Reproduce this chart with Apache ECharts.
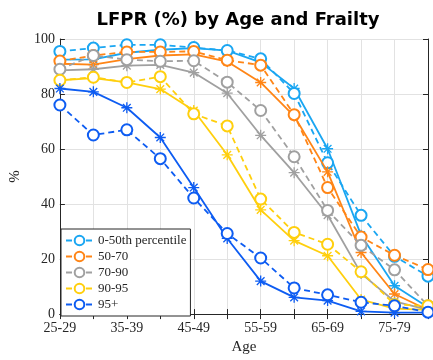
<!DOCTYPE html>
<html>
<head>
<meta charset="utf-8">
<script src="https://cdn.jsdelivr.net/npm/echarts@6/dist/echarts.min.js"></script>
<style>
  html, body { margin: 0; padding: 0; background: #fff; }
  #chart { width: 433px; height: 360px; }
</style>
</head>
<body>
<div id="chart"></div>
<script>
// Age groups on the x axis
const ageGroups = ['25-29', '30-34', '35-39', '40-44', '45-49', '50-54',
                   '55-59', '60-64', '65-69', '70-74', '75-79', '80-84'];
const yTicks = [0, 20, 40, 60, 80, 100];

// Frailty groups (legend labels)
const groupNames = ['0-50th percentile', '50-70', '70-90', '90-95', '95+'];

// Dashed lines with circles: data
const dataP0_50  = [95.5, 96.7, 97.9, 97.9, 96.9, 95.8, 92.8, 80.2, 55.0, 35.9, 21.0, 13.8];
const dataP50_70 = [92.0, 94.0, 95.3, 95.3, 95.5, 92.3, 90.5, 72.5, 46.0, 28.0, 21.4, 16.2];
const dataP70_90 = [89.0, 94.0, 92.5, 91.9, 92.1, 84.3, 74.0, 57.2, 37.7, 25.0, 16.1, 3.0];
const dataP90_95 = [85.0, 86.1, 84.2, 86.3, 72.8, 68.4, 41.8, 29.7, 25.4, 15.4, 3.5, 3.0];
const dataP95    = [76.0, 65.1, 67.0, 56.5, 42.2, 29.3, 20.4, 9.5, 7.0, 4.3, 3.0, 0.7];

// Solid lines with asterisks: model
const modelP0_50  = [92.5, 92.6, 95.0, 96.1, 96.7, 95.8, 91.5, 82.0, 60.1, 28.7, 10.3, 2.5];
const modelP50_70 = [91.0, 90.7, 92.7, 94.0, 94.4, 91.8, 84.2, 72.0, 51.7, 22.4, 7.3, 1.5];
const modelP70_90 = [88.6, 89.0, 90.3, 90.6, 87.8, 80.3, 65.0, 51.4, 36.0, 14.8, 4.6, 1.5];
const modelP90_95 = [85.0, 85.8, 84.2, 81.8, 74.0, 57.9, 37.9, 26.7, 21.2, 5.3, 2.0, 1.5];
const modelP95    = [82.0, 80.8, 75.0, 64.2, 46.0, 27.5, 12.0, 6.1, 4.9, 1.0, 0.5, 0.5];

const dataSets  = [dataP0_50, dataP50_70, dataP70_90, dataP90_95, dataP95];
const modelSets = [modelP0_50, modelP50_70, modelP70_90, modelP90_95, modelP95];
const colors = ['#1aa6f2', '#ff8516', '#a0a0a0', '#ffcf0d', '#0d5cf2'];

// Eight-spoke asterisk marker built from thin bars
const asterisk = 'path://M8.8,0L11.2,0L11.2,20L8.8,20Z' +
  'M0,8.8L20,8.8L20,11.2L0,11.2Z' +
  'M2.15,3.85L3.85,2.15L17.85,16.15L16.15,17.85Z' +
  'M16.15,2.15L17.85,3.85L3.85,17.85L2.15,16.15Z';

const serif = 'Liberation Serif';
const ink = '#262626';

const series = [];
groupNames.forEach((name, i) => {
  series.push({
    name: name + ' (model)',
    type: 'line',
    data: modelSets[i],
    xAxisIndex: 0, yAxisIndex: 0,
    symbol: asterisk,
    symbolSize: 11,
    showAllSymbol: true,
    lineStyle: { color: colors[i], width: 1.8, type: 'solid' },
    itemStyle: { color: colors[i], borderWidth: 0 },
    z: 2 + i,
    animation: false
  });
  series.push({
    name: name,
    type: 'line',
    data: dataSets[i],
    xAxisIndex: 0, yAxisIndex: 0,
    symbol: 'emptyCircle',
    symbolSize: 11,
    showAllSymbol: true,
    lineStyle: { color: colors[i], width: 1.8, type: [6, 4] },
    itemStyle: { color: colors[i], borderColor: colors[i], borderWidth: 1.7 },
    z: 2 + i,
    animation: false
  });
});

const chart = echarts.init(document.getElementById('chart'), null, { renderer: 'canvas' });
chart.setOption({
  animation: false,
  backgroundColor: '#fff',
  title: {
    text: 'LFPR (%) by Age and Frailty',
    left: 233,
    textAlign: 'center',
    top: 6,
    textStyle: { fontFamily: 'DejaVu Sans', fontWeight: 'bold', fontSize: 18, color: '#000' }
  },
  grid: { left: 53, right: 5, top: 39, bottom: 41, containLabel: false },
  legend: {
    data: groupNames,
    orient: 'vertical',
    left: 61,
    top: 229,
    padding: [5, 4, 5, 4],
    itemGap: 3,
    itemWidth: 27,
    itemHeight: 12,
    backgroundColor: '#fff',
    borderColor: ink,
    borderWidth: 1,
    borderRadius: 0,
    textStyle: { fontFamily: serif, fontSize: 13, color: ink }
  },
  xAxis: [{
    type: 'category',
    data: ageGroups,
    boundaryGap: false,
    name: 'Age',
    nameLocation: 'middle',
    nameGap: 25,
    nameTextStyle: { fontFamily: serif, fontSize: 15, color: ink },
    axisLine: { show: true, lineStyle: { color: ink, width: 1 } },
    axisTick: { show: true, inside: true, length: 5, interval: 0, lineStyle: { color: ink } },
    axisLabel: { interval: 1, fontFamily: serif, fontSize: 14, color: ink, margin: 7 },
    splitLine: { show: true, interval: 0, lineStyle: { color: '#e2e2e2', width: 1 } }
  }, {
    type: 'category',
    data: ageGroups,
    boundaryGap: false,
    position: 'top',
    axisLine: { show: true, lineStyle: { color: ink, width: 1 } },
    axisTick: { show: true, inside: true, length: 5, interval: 0, lineStyle: { color: ink } },
    axisLabel: { show: false },
    splitLine: { show: false }
  }],
  yAxis: [{
    type: 'value',
    min: yTicks[0],
    max: yTicks[yTicks.length - 1],
    interval: 20,
    name: '%',
    nameLocation: 'middle',
    nameGap: 35,
    nameRotate: 90,
    nameTextStyle: { fontFamily: serif, fontSize: 15, color: ink },
    axisLine: { show: true, lineStyle: { color: ink, width: 1 } },
    axisTick: { show: true, inside: true, length: 5, lineStyle: { color: ink } },
    axisLabel: { fontFamily: serif, fontSize: 14, color: ink, margin: 5 },
    splitLine: { show: true, lineStyle: { color: '#e2e2e2', width: 1 } }
  }, {
    type: 'value',
    min: yTicks[0],
    max: yTicks[yTicks.length - 1],
    interval: 20,
    position: 'right',
    axisLine: { show: true, lineStyle: { color: ink, width: 1 } },
    axisTick: { show: true, inside: true, length: 5, lineStyle: { color: ink } },
    axisLabel: { show: false },
    splitLine: { show: false }
  }],
  series: series
});
</script>
</body>
</html>
